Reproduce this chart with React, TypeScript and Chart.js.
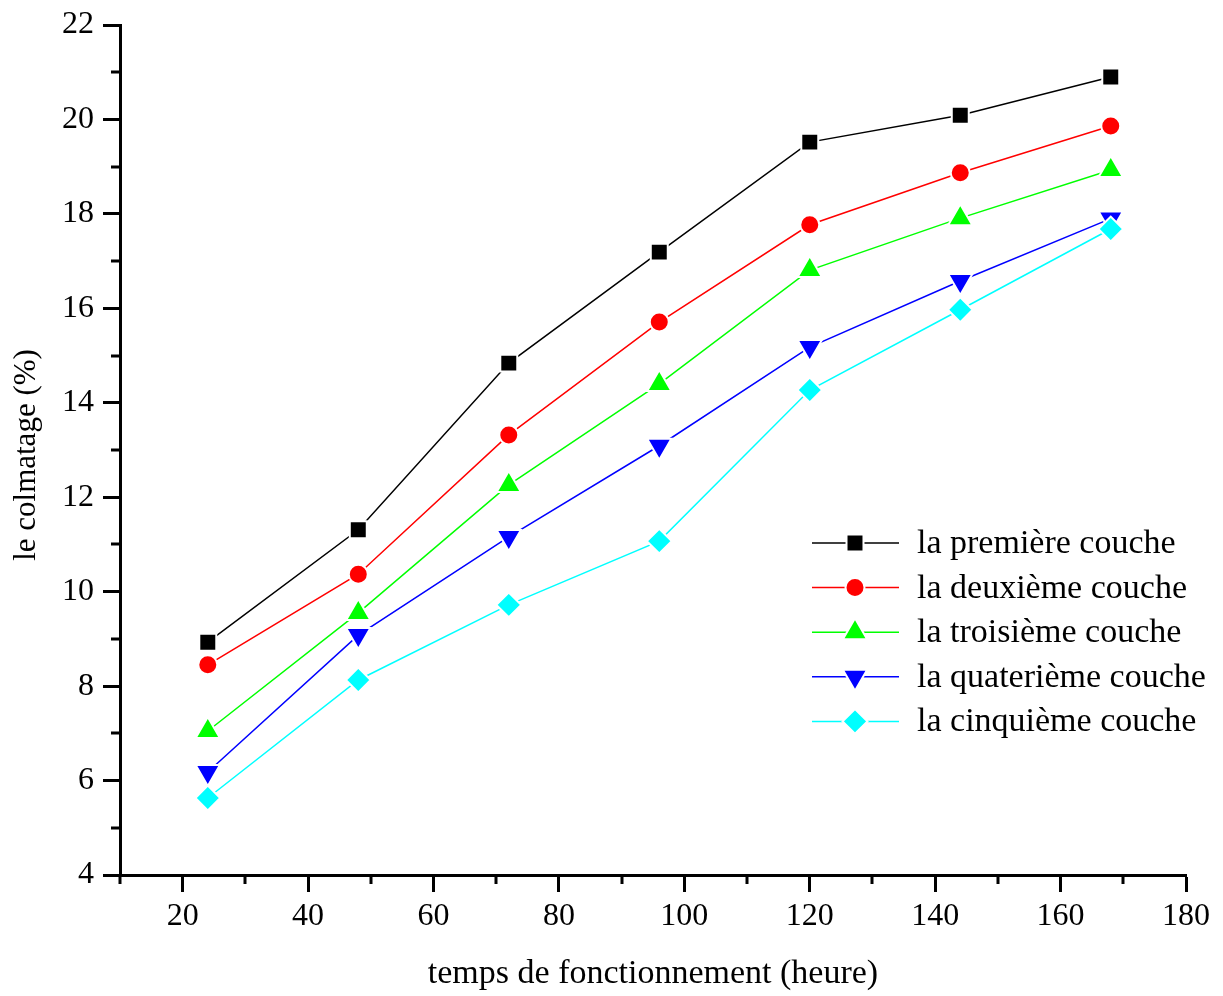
import React, { useEffect, useRef } from "react";
import { Chart, registerables } from "chart.js";
import { drawPoint } from "chart.js/helpers";

Chart.register(...registerables);

const hours = [24, 48, 72, 96, 120, 144, 168];
const premiere = [8.93, 11.31, 14.84, 17.19, 19.52, 20.09, 20.9];
const deuxieme = [8.45, 10.37, 13.32, 15.71, 17.77, 18.87, 19.86];
const troisieme = [7.05, 9.55, 12.26, 14.4, 16.81, 17.91, 18.93];
const quatrieme = [6.18, 9.08, 11.16, 13.09, 15.18, 16.58, 17.9];
const cinquieme = [5.63, 8.13, 9.72, 11.07, 14.27, 15.97, 17.68];

const seriesLabels = [
  "la première couche",
  "la deuxième couche",
  "la troisième couche",
  "la quaterième couche",
  "la cinquième couche",
];
const seriesValues = [premiere, deuxieme, troisieme, quatrieme, cinquieme];
const seriesColors = ["#000000", "#ff0000", "#00ff00", "#0000ff", "#00ffff"];
const seriesStyles = ["rect", "circle", "triangle", "triangle", "rectRot"];
const seriesRotation = [0, 0, 0, 180, 0];
const seriesRadius = [12, 9.5, 14, 14, 12.4];

const xMajorTicks = [20, 40, 60, 80, 100, 120, 140, 160, 180];
const xMinorTicks = [10, 30, 50, 70, 90, 110, 130, 150, 170];
const yMajorTicks = [4, 6, 8, 10, 12, 14, 16, 18, 20, 22];
const yMinorTicks = [5, 7, 9, 11, 13, 15, 17, 19, 21];

const xTitle = "temps de fonctionnement (heure)";
const yTitle = "le colmatage (%)";

const SERIF = "'Liberation Serif', 'Times New Roman', serif";

const decorPlugin = {
  id: "decor",
  afterDraw(chart: any) {
    const ctx = chart.ctx;
    const area = chart.chartArea;
    const xs = chart.scales.x;
    const ys = chart.scales.y;
    ctx.save();
    // minor ticks
    ctx.strokeStyle = "#000";
    ctx.lineWidth = 3;
    ctx.lineCap = "butt";
    ctx.beginPath();
    for (const v of xMinorTicks) {
      const px = Math.round(xs.getPixelForValue(v));
      ctx.moveTo(px, area.bottom);
      ctx.lineTo(px, area.bottom + 9);
    }
    for (const v of yMinorTicks) {
      const py = Math.round(ys.getPixelForValue(v));
      ctx.moveTo(area.left, py);
      ctx.lineTo(area.left - 9, py);
    }
    ctx.stroke();

    // axis titles
    ctx.fillStyle = "#000";
    ctx.font = `34px ${SERIF}`;
    ctx.textAlign = "center";
    ctx.textBaseline = "alphabetic";
    ctx.fillText(xTitle, (area.left + area.right) / 2, 983);
    ctx.save();
    ctx.translate(35, 455);
    ctx.rotate(-Math.PI / 2);
    ctx.font = `31px ${SERIF}`;
    ctx.fillText(yTitle, 0, 0);
    ctx.restore();

    // legend
    const lx0 = 812;
    const lx1 = 899;
    const mx = 855;
    const tx = 917;
    const y0 = 543;
    const dy = 44.6;
    chart.data.datasets.forEach((ds: any, i: number) => {
      const y = y0 + i * dy;
      ctx.strokeStyle = ds.borderColor;
      ctx.lineWidth = 1.5;
      ctx.beginPath();
      ctx.moveTo(lx0, y);
      ctx.lineTo(lx1, y);
      ctx.stroke();
      ctx.fillStyle = ds.pointBackgroundColor;
      ctx.strokeStyle = "#ffffff";
      ctx.lineWidth = 2;
      drawPoint(
        ctx,
        {
          pointStyle: ds.pointStyle,
          radius: ds.pointRadius,
          rotation: ds.pointRotation,
          borderWidth: 2,
        },
        mx,
        y
      );
      ctx.fillStyle = "#000";
      ctx.font = `34px ${SERIF}`;
      ctx.textAlign = "left";
      ctx.textBaseline = "middle";
      ctx.fillText(ds.label, tx, y + 1);
    });
    ctx.restore();
  },
};

export default function App() {
  const canvasRef = useRef<HTMLCanvasElement | null>(null);

  useEffect(() => {
    const canvas = canvasRef.current;
    if (!canvas) return;
    const datasets = seriesLabels.map((label, i) => ({
      label,
      data: hours.map((h, j) => ({ x: h, y: seriesValues[i][j] })),
      borderColor: seriesColors[i],
      backgroundColor: seriesColors[i],
      pointBackgroundColor: seriesColors[i],
      pointBorderColor: "#ffffff",
      pointBorderWidth: 2,
      pointStyle: seriesStyles[i],
      pointRotation: seriesRotation[i],
      pointRadius: seriesRadius[i],
      borderWidth: 1.5,
      tension: 0,
      fill: false,
      order: seriesLabels.length - 1 - i,
    }));

    const chart = new Chart(canvas, {
      type: "line",
      data: { datasets },
      plugins: [decorPlugin],
      options: {
        responsive: false,
        animation: false,
        events: [],
        layout: { padding: { top: 25, right: 37, left: 0, bottom: 0 } },
        plugins: {
          legend: { display: false },
          tooltip: { enabled: false },
          title: { display: false },
        },
        scales: {
          x: {
            type: "linear",
            min: 10,
            max: 180,
            afterBuildTicks: (scale: any) => {
              scale.ticks = xMajorTicks.map((v) => ({ value: v }));
            },
            afterFit: (scale: any) => {
              scale.height = 121;
              scale.paddingLeft = 0;
              scale.paddingRight = 0;
            },
            grid: {
              drawOnChartArea: false,
              drawTicks: true,
              tickLength: 17,
              tickWidth: 3,
              tickColor: "#000",
            },
            border: { display: true, color: "#000", width: 3 },
            ticks: {
              color: "#000",
              font: { family: SERIF, size: 32 },
              padding: 5,
              maxRotation: 0,
              autoSkip: false,
            },
          },
          y: {
            type: "linear",
            min: 4,
            max: 22,
            afterBuildTicks: (scale: any) => {
              scale.ticks = yMajorTicks.map((v) => ({ value: v }));
            },
            afterFit: (scale: any) => {
              scale.width = 120;
              scale.paddingTop = 0;
              scale.paddingBottom = 0;
            },
            grid: {
              drawOnChartArea: false,
              drawTicks: true,
              tickLength: 17,
              tickWidth: 3,
              tickColor: "#000",
            },
            border: { display: true, color: "#000", width: 3 },
            ticks: {
              color: "#000",
              font: { family: SERIF, size: 32 },
              padding: 9,
              autoSkip: false,
            },
          },
        },
      },
    } as any);
    return () => chart.destroy();
  }, []);

  return (
    <div style={{ position: "absolute", left: 0, top: 0, width: 1223, height: 996, background: "#fff" }}>
      <canvas ref={canvasRef} width={1223} height={996} style={{ display: "block" }} />
    </div>
  );
}
